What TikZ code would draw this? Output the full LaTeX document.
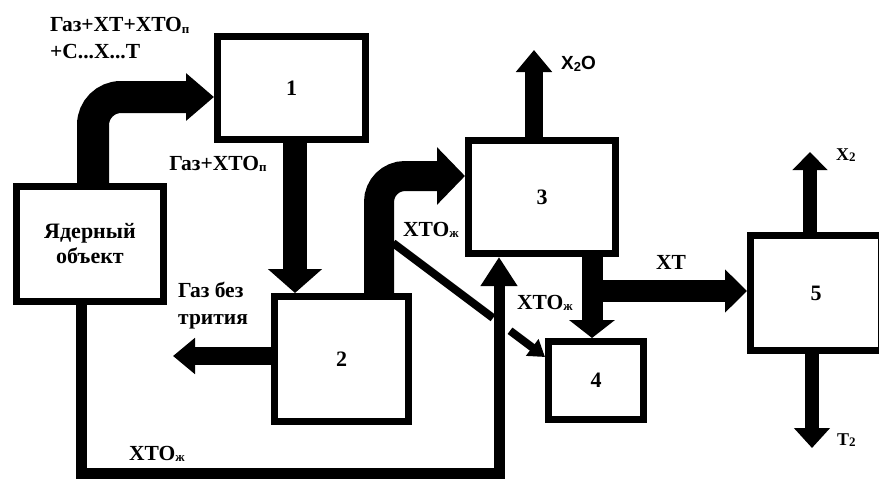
\documentclass[tikz,border=0pt]{standalone}
\usepackage{fontspec}
\setmainfont{Liberation Serif}
\newfontfamily\arialf{Liberation Sans}
\usetikzlibrary{arrows.meta}
\newcommand{\lowtxt}[1]{\raisebox{-1.5pt}{\fontsize{13}{13}\selectfont #1}}
\begin{document}
\begin{tikzpicture}[x=1pt,y=-1pt,
  box/.style={draw, line width=7pt, inner sep=0pt, align=center,
    font=\fontsize{22}{25}\selectfont\bfseries},
  lab/.style={inner sep=0pt, align=left, font=\fontsize{21.5}{27}\selectfont\bfseries},
  slab/.style={inner sep=0pt, font=\fontsize{18}{20}\selectfont\bfseries},
]
\clip (0,0) rectangle (879,479);
\fill[white] (0,0) rectangle (879,479);

% boxes
\node[box, minimum width=147pt, minimum height=115pt] (obj) at (90,244) {Ядерный\\объект};
\node[box, minimum width=148pt, minimum height=103pt] (b1) at (291.5,88) {1};
\node[box, minimum width=134pt, minimum height=125pt] (b2) at (341.5,359) {2};
\node[box, minimum width=147pt, minimum height=113pt] (b3) at (542,197) {3};
\node[box, minimum width=95pt, minimum height=78pt] (b4) at (596,380.5) {4};
\node[box, minimum width=131pt, minimum height=115pt] (b5) at (816,293) {5};

% helper coordinates
\coordinate (k1) at (93,97);
\coordinate (k2) at (295,0);
\coordinate (k3) at (379,176);
\coordinate (k4) at (534,50);
\coordinate (k5) at (592,0);
\coordinate (k6) at (592,291);
\coordinate (k7) at (810,152);
\coordinate (k8) at (812,448);
\coordinate (k9) at (173,356);
\coordinate (k10) at (81,473.5);
\coordinate (k11) at (499,473.5);
\coordinate (d0) at (393,243);
\coordinate (d1) at (493,318);
\coordinate (d2) at (510,330.75);
\coordinate (d3) at (545,357);

% connectors
\draw[line width=32pt, rounded corners=28pt, -{Triangle[length=28pt,width=46pt]}]
  (obj.north -| k1) -- (k1) -- (k1 -| b1.west);
\draw[line width=24pt, -{Triangle[length=24pt,width=53pt]}]
  (b1.south -| k2) -- (b2.north -| k2);
\draw[line width=30pt, rounded corners=26pt, -{Triangle[length=28pt,width=56pt]}]
  (b2.north -| k3) -- (k3) -- (k3 -| b3.west);
\draw[line width=18pt, -{Triangle[length=22pt,width=35pt]}]
  (b3.north -| k4) -- (k4);
\draw[line width=21pt, -{Triangle[length=18pt,width=45pt]}]
  (b3.south -| k5) -- (b4.north -| k5);
\draw[line width=22pt, -{Triangle[length=22pt,width=42pt]}]
  (k6) -- (k6 -| b5.west);
\draw[line width=14pt, -{Triangle[length=18pt,width=34pt]}]
  (b5.north -| k7) -- (k7);
\draw[line width=14pt, -{Triangle[length=20pt,width=35pt]}]
  (b5.south -| k8) -- (k8);
\draw[line width=18pt, -{Triangle[length=22pt,width=35pt]}]
  (b2.west |- k9) -- (k9);
\draw[line width=11pt, -{Triangle[length=29pt,width=35pt]}]
  (obj.south -| k10) -- (k10) -- (k11) -- (b3.south -| k11);
\draw[line width=8pt] (d0) -- (d1);
\draw[line width=8pt, -{Triangle[length=16pt,width=20pt]}] (d2) -- (d3);

% labels
\node[lab, anchor=west] (t1) at (50,38.5) {Газ+XT+XTO\lowtxt{п}\\+C...X...T};
\node[lab] (t2) at (218,164) {Газ+XTO\lowtxt{п}};
\node[lab, anchor=west] (t3) at (178,306) {Газ без\\трития};
\node[lab] (t4) at (431,230) {XTO\lowtxt{ж}};
\node[lab] (t5) at (545,303) {XTO\lowtxt{ж}};
\node[lab] (t6) at (157,454) {XTO\lowtxt{ж}};
\node[lab] (t7) at (671,262) {XT};
\node[inner sep=0pt, anchor=west, font=\arialf\fontsize{19}{20}\selectfont\bfseries] (t8) at (561,64) {X\lowtxt{2}O};
\node[slab, anchor=west] (t9) at (836,155) {X\lowtxt{2}};
\node[slab, anchor=west] (t10) at (837,440) {T\lowtxt{2}};
\end{tikzpicture}
\end{document}
